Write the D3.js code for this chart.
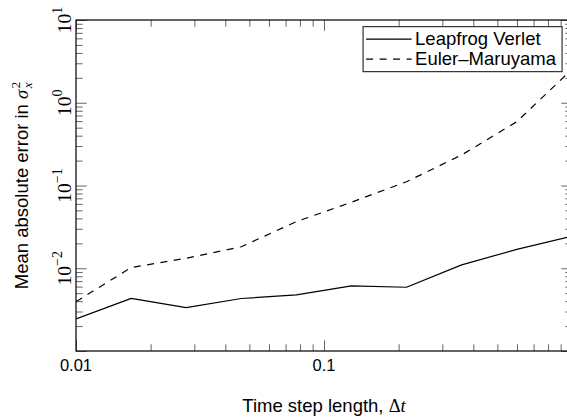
<!DOCTYPE html>
<html>
<head>
<meta charset="utf-8">
<script src="https://cdn.jsdelivr.net/npm/d3@7"></script>
<style>
  html, body { margin: 0; padding: 0; background: #fff; }
  svg { display: block; }
</style>
</head>
<body>
<svg id="chart" width="567" height="417"></svg>
<script>
// Time step lengths and the mean absolute error of the variance estimate
const timeSteps = [0.01, 0.0167, 0.0278, 0.0464, 0.0774, 0.129, 0.215, 0.359, 0.599, 1.0];
const leapfrogError = [0.00244, 0.00433, 0.00334, 0.00431, 0.00476, 0.00611, 0.00589, 0.0110, 0.0169, 0.0244];
const eulerError = [0.00395, 0.0102, 0.0132, 0.0182, 0.0366, 0.0628, 0.111, 0.234, 0.59, 2.54];

const seriesNames = ["Leapfrog Verlet", "Euler\u2013Maruyama"];
const xTickValues = [0.01, 0.1];
const xTickLabels = ["0.01", "0.1"];
const yTickExponents = [1, 0, -1, -2];

const svg = d3.select("#chart");
const plot = { left: 76, top: 20, right: 572, bottom: 351 };

const x = d3.scaleLog().domain([0.01, 1]).range([plot.left, plot.right]);
const y = d3.scaleLog().domain([1e-3, 1e1]).range([plot.bottom, plot.top]);

const sans = "'Liberation Sans', Arial, Helvetica, sans-serif";
const serif = "'Liberation Serif', 'Times New Roman', serif";

// decade and sub-decade tick positions
const xMajor = [0.01, 0.1, 1];
const xMinor = x.ticks().filter(v => !xMajor.some(m => Math.abs(m - v) < 1e-12));
const yMajor = [1e-3, 1e-2, 1e-1, 1, 10];
const yMinor = y.ticks().filter(v => !yMajor.some(m => Math.abs(m / v - 1) < 1e-9));

const majorLen = 10.7, minorLen = 6.7;
const tickColor = "#555";

function drawAxis(axisFn, scale, values, len, transform) {
  const g = svg.append("g")
    .attr("transform", transform)
    .call(axisFn(scale).tickValues(values).tickSize(-len).tickFormat(""));
  g.select(".domain").remove();
  g.selectAll(".tick line").attr("stroke", tickColor).attr("stroke-width", 0.9);
  return g;
}

// ticks on all four sides, pointing inward
drawAxis(d3.axisBottom, x, xMinor, minorLen, `translate(0,${plot.bottom})`);
drawAxis(d3.axisBottom, x, xMajor, majorLen, `translate(0,${plot.bottom})`);
drawAxis(d3.axisTop, x, xMinor, minorLen, `translate(0,${plot.top})`);
drawAxis(d3.axisTop, x, xMajor, majorLen, `translate(0,${plot.top})`);
drawAxis(d3.axisLeft, y, yMinor, minorLen, `translate(${plot.left},0)`);
drawAxis(d3.axisLeft, y, yMajor, majorLen, `translate(${plot.left},0)`);
drawAxis(d3.axisRight, y, yMinor, minorLen, `translate(${plot.right},0)`);
drawAxis(d3.axisRight, y, yMajor, majorLen, `translate(${plot.right},0)`);

// data lines
svg.append("clipPath").attr("id", "plotClip")
  .append("rect")
  .attr("x", plot.left).attr("y", plot.top)
  .attr("width", plot.right - plot.left).attr("height", plot.bottom - plot.top);

const line = d3.line().x(d => x(d[0])).y(d => y(d[1]));
const series = [
  { name: seriesNames[0], values: leapfrogError, dash: null },
  { name: seriesNames[1], values: eulerError, dash: "7,6.5" }
];

const lines = svg.append("g").attr("clip-path", "url(#plotClip)");
series.forEach(s => {
  lines.append("path")
    .datum(timeSteps.map((t, i) => [t, s.values[i]]))
    .attr("d", line)
    .attr("fill", "none")
    .attr("stroke", "#000")
    .attr("stroke-width", 1.2)
    .attr("stroke-linejoin", "round")
    .attr("stroke-dasharray", s.dash);
});

// axis frame
svg.append("rect")
  .attr("x", plot.left).attr("y", plot.top)
  .attr("width", plot.right - plot.left).attr("height", plot.bottom - plot.top)
  .attr("fill", "none").attr("stroke", "#111").attr("stroke-width", 1.3);

// x tick labels
svg.append("g").selectAll("text")
  .data(xTickValues)
  .join("text")
  .attr("x", d => x(d))
  .attr("y", 370.7)
  .attr("text-anchor", "middle")
  .attr("font-family", sans)
  .attr("font-size", 16.5)
  .text((d, i) => xTickLabels[i]);

// y tick labels: powers of ten, rotated
const yLabels = svg.append("g").selectAll("text")
  .data(yTickExponents)
  .join("text")
  .attr("transform", d => `translate(70.5,${y(Math.pow(10, d))}) rotate(-90)`)
  .attr("text-anchor", "middle")
  .attr("font-family", serif)
  .attr("font-size", 19.5);
yLabels.append("tspan").text("10");
yLabels.append("tspan")
  .attr("dy", -8.5)
  .attr("font-size", 14)
  .text(d => d < 0 ? "\u2212" + (-d) : String(d));

// x axis title
const xTitle = svg.append("text")
  .attr("x", (plot.left + plot.right) / 2)
  .attr("y", 411.5)
  .attr("text-anchor", "middle")
  .attr("font-family", sans)
  .attr("font-size", 18.5);
xTitle.append("tspan").text("Time step length, ");
xTitle.append("tspan").attr("font-family", serif).text("\u0394");
xTitle.append("tspan").attr("font-family", serif).attr("font-style", "italic").text("t");

// y axis title
const yTitle = svg.append("text")
  .attr("transform", `translate(28,${(plot.top + plot.bottom) / 2}) rotate(-90)`)
  .attr("text-anchor", "middle")
  .attr("font-family", sans)
  .attr("font-size", 18.5);
yTitle.append("tspan").text("Mean absolute error in ");
yTitle.append("tspan").attr("font-family", serif).attr("font-style", "italic").text("\u03c3");
yTitle.append("tspan").attr("font-family", serif).attr("font-size", 13).attr("dx", 1.5).attr("dy", -8).text("2");
yTitle.append("tspan").attr("font-family", serif).attr("font-style", "italic").attr("font-size", 13)
  .attr("dx", -6.5).attr("dy", 12).text("x");

// legend in the upper right corner of the axes
const legendW = 199, legendH = 45;
const legendX = plot.right - 0.02 * (plot.right - plot.left) - legendW;
const legendY = plot.top + 0.02 * (plot.bottom - plot.top);
const legend = svg.append("g").attr("transform", `translate(${legendX},${legendY})`);
legend.append("rect")
  .attr("width", legendW).attr("height", legendH)
  .attr("fill", "#fff").attr("stroke", "#333").attr("stroke-width", 1.2);
series.forEach((s, i) => {
  const base = 18.8 + i * 20;
  legend.append("line")
    .attr("x1", 3).attr("x2", 48.5)
    .attr("y1", base - 6.3).attr("y2", base - 6.3)
    .attr("stroke", "#000").attr("stroke-width", 1.2)
    .attr("stroke-dasharray", s.dash);
  legend.append("text")
    .attr("x", 52).attr("y", base)
    .attr("font-family", sans)
    .attr("font-size", 18.5)
    .text(s.name);
});
</script>
</body>
</html>
